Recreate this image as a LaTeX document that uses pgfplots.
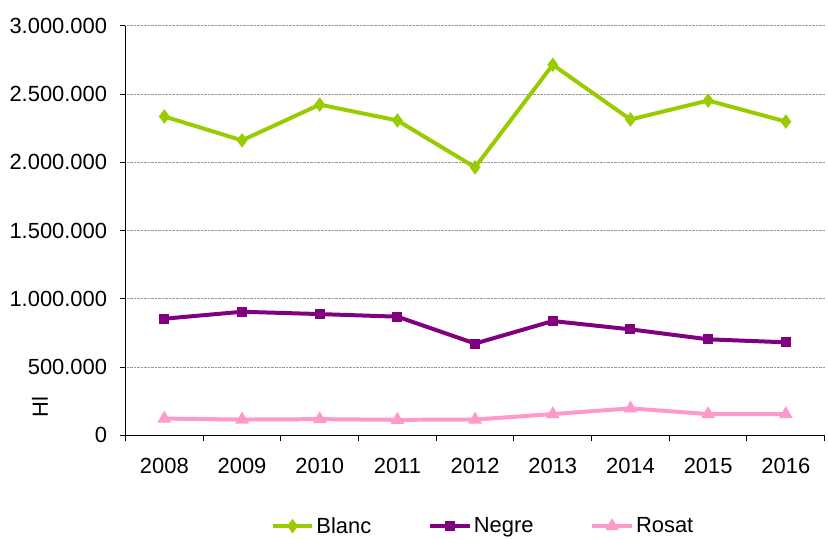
\documentclass[border=0pt]{standalone}
\usepackage{fontspec}
\setmainfont{Liberation Sans}
\usepackage{pgfplots}
\pgfplotsset{compat=1.18}
\definecolor{blanc}{HTML}{99CC00}
\definecolor{negre}{HTML}{800080}
\definecolor{rosat}{HTML}{FF99CC}
\begin{document}
\begin{tikzpicture}[font=\fontsize{22}{26}\selectfont]
\begin{axis}[name=ax, scale only axis, width=702pt, height=411pt,
  xmin=-0.5, xmax=8.5, ymin=0, ymax=3000000,
  axis x line*=bottom, axis y line*=left,
  axis line style={black, line width=1pt, -},
  tick align=outside, major tick length=6pt,
  tick style={black, line width=1pt},
  xtick={-0.5,0.5,...,8.5}, xticklabels={},
  extra x ticks={0,1,2,3,4,5,6,7,8},
  extra x tick labels={2008,2009,2010,2011,2012,2013,2014,2015,2016},
  extra x tick style={major tick length=0pt, xticklabel style={yshift=-20pt}},
  ytick={0,500000,1000000,1500000,2000000,2500000,3000000},
  scaled y ticks=false,
  yticklabel style={/pgf/number format/fixed, /pgf/number format/1000 sep={.}, xshift=-9pt},
  /pgf/number format/assume math mode=true,
  ymajorgrids, grid style={densely dotted, gray!80, line width=0.8pt},
  legend columns=3,
  legend style={at={(0.203,-0.222)}, anchor=west, draw=none, fill=none,
    /tikz/every even column/.append style={column sep=55pt},
    nodes={inner sep=2pt}},
  legend image code/.code={\draw[mark repeat=2,mark phase=2] plot coordinates {(0pt,0pt) (20pt,0pt) (40pt,0pt)};},
  clip=false,
]
\addplot[blanc, line width=4pt, mark=diamond*, mark size=4pt] coordinates {
(0,2336000) (1,2161000) (2,2423000) (3,2307000) (4,1964000) (5,2715000) (6,2314000) (7,2453000) (8,2299000)};
\addlegendentry{Blanc}
\addplot[negre, line width=4pt, mark=square*, mark size=3pt] coordinates {
(0,854000) (1,905000) (2,888000) (3,869000) (4,672000) (5,837000) (6,776000) (7,703000) (8,681000)};
\addlegendentry{Negre}
\addplot[rosat, line width=4pt, mark=triangle*, mark size=4pt] coordinates {
(0,122000) (1,115000) (2,118000) (3,113000) (4,115000) (5,155000) (6,197000) (7,155000) (8,155000)};
\addlegendentry{Rosat}
\end{axis}
\node[rotate=90] at ([shift={(-86pt,28pt)}]ax.south west) {Hl};
\path ([shift={(-126pt,-99pt)}]ax.south west) rectangle ([shift={(0pt,26pt)}]ax.north east);
\end{tikzpicture}
\end{document}
